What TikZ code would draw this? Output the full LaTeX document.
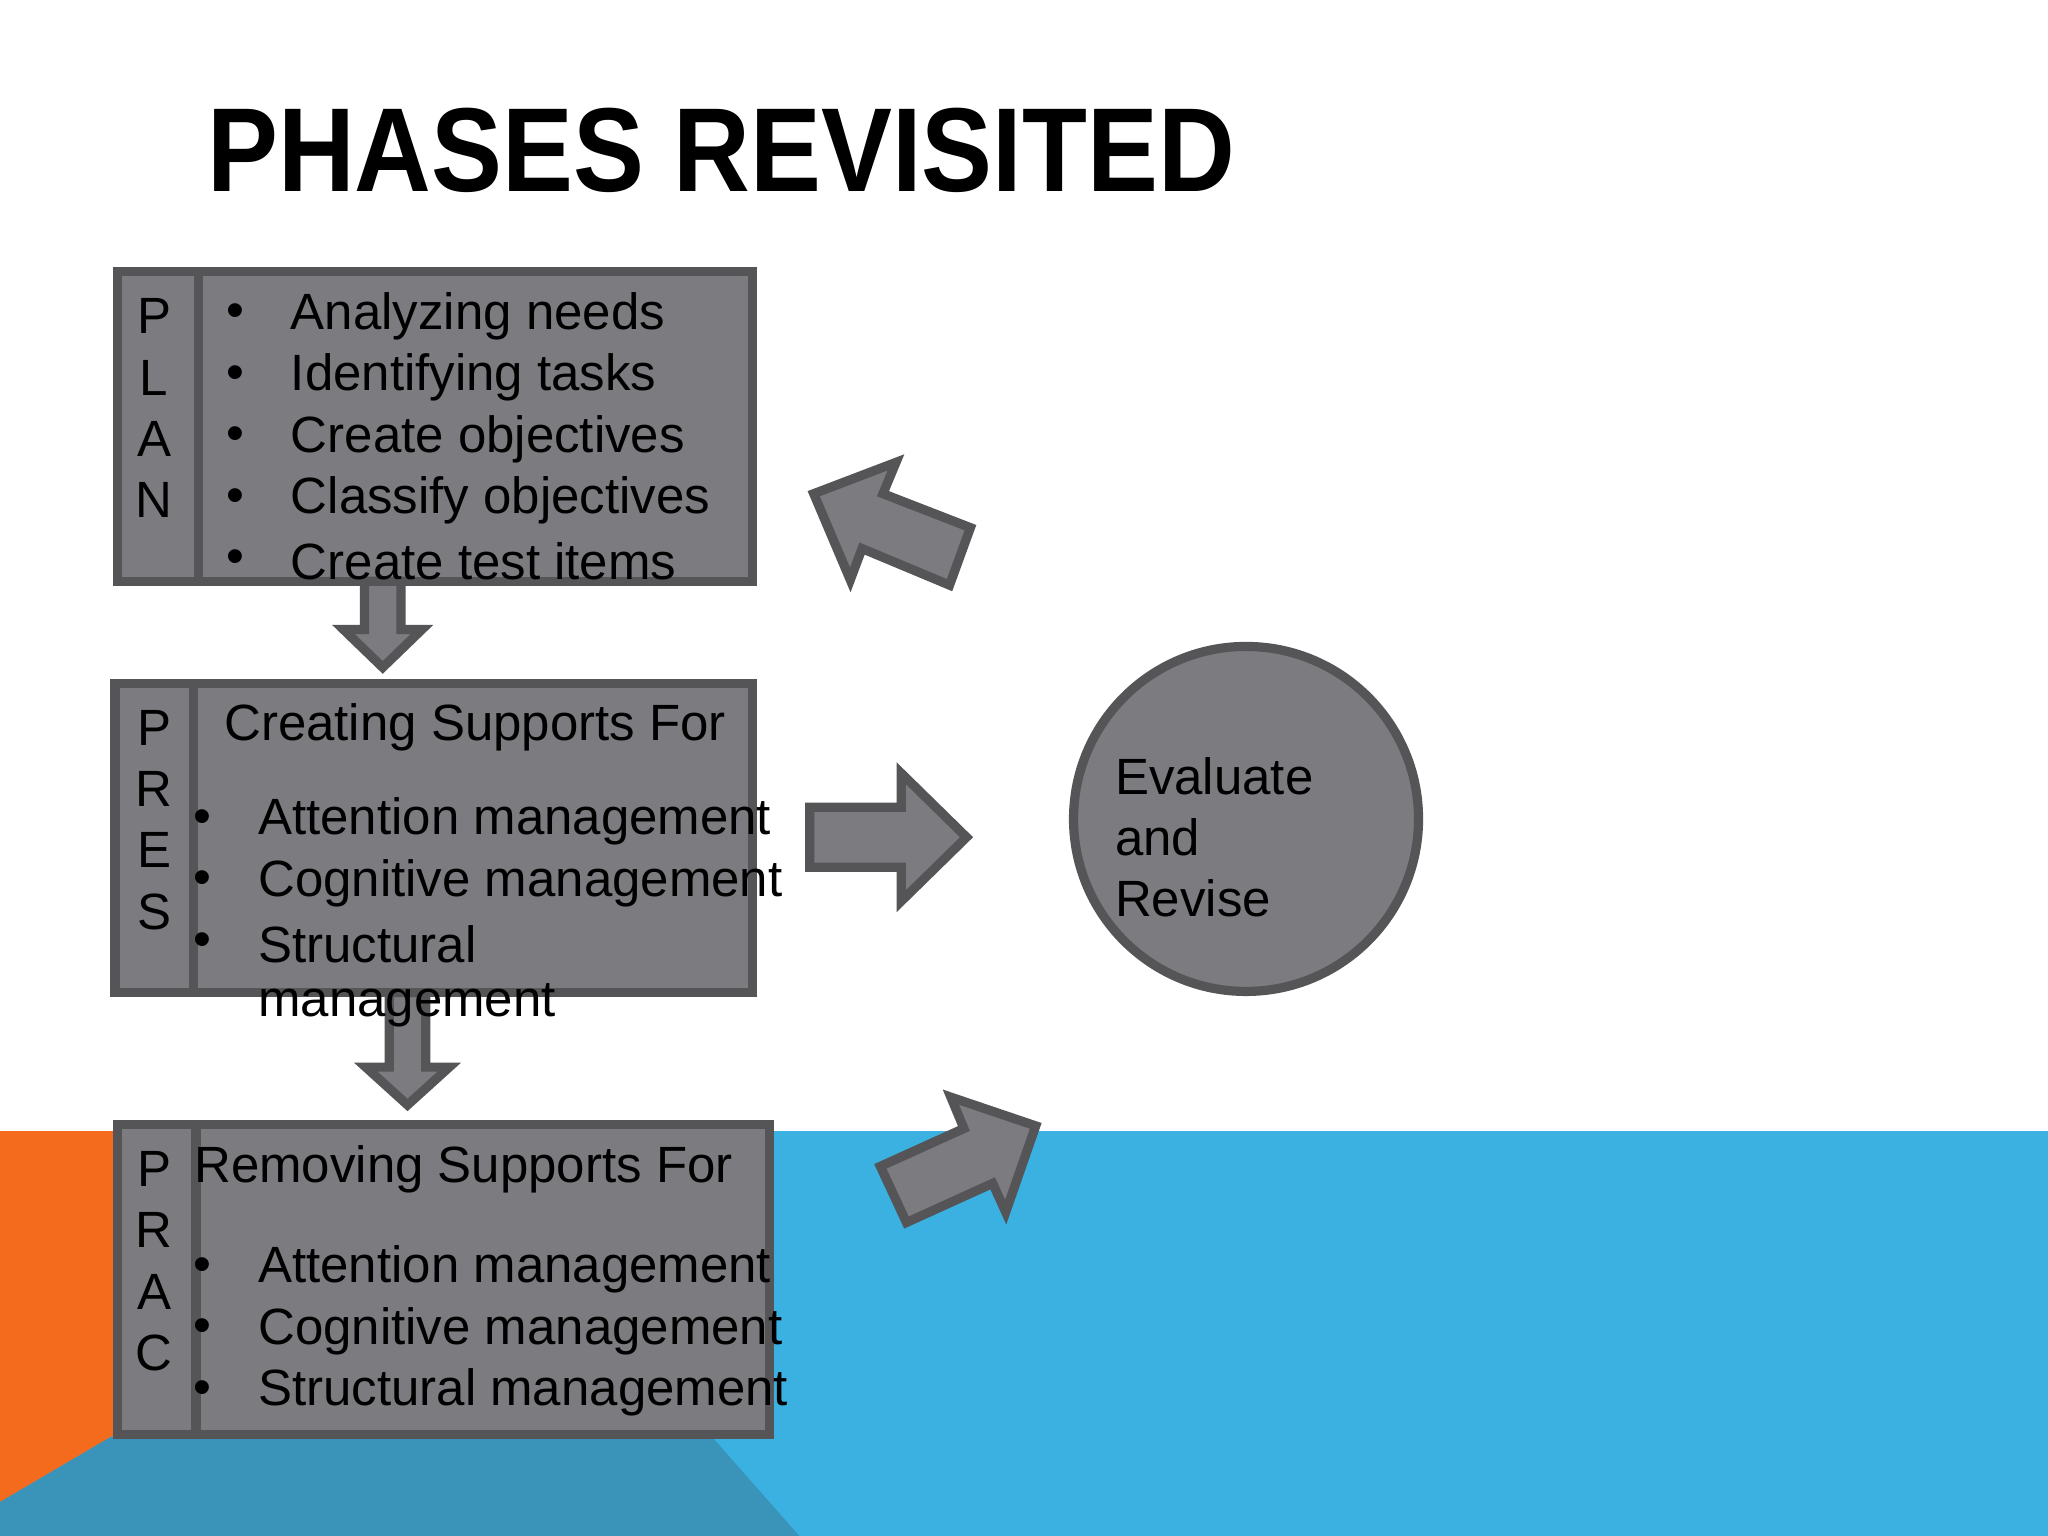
\documentclass[tikz,border=0pt]{standalone}
\usepackage{fontspec}
\setmainfont{Liberation Sans}
\definecolor{bx}{HTML}{7B7B80}
\definecolor{bd}{HTML}{555558}
\definecolor{bl}{HTML}{3BB1E1}
\definecolor{tl}{HTML}{3A93B8}
\definecolor{og}{HTML}{F56B1E}
\begin{document}
\begin{tikzpicture}[x=0.01cm,y=-0.01cm,
 box/.style={fill=bx,draw=bd,line width=2pt},
 t/.style={anchor=west,inner sep=0pt,font=\fontsize{11.1pt}{13pt}\selectfont,text=black},
 l/.style={anchor=center,inner sep=0pt,font=\fontsize{11.1pt}{13pt}\selectfont,text=black}]
\useasboundingbox (0,0) rectangle (1568,1176);
\fill[white] (0,0) rectangle (1568,1176);
\fill[bl] (0,866) rectangle (1568,1176);
\fill[og] (0,866) -- (120,866) -- (120,1100) -- (85,1100) -- (0,1150) -- cycle;
\fill[tl] (85,1100) -- (545,1100) -- (612,1176) -- (0,1176) -- (0,1150) -- cycle;
\node[anchor=west,inner sep=0pt,font=\bfseries\fontsize{26pt}{30pt}\selectfont] (title) at (158,115) {\scalebox{0.89}[1]{PHASES REVISITED}};
% boxes
\draw[box] (90,208) rectangle (576,445); \draw[bd,line width=2pt] (152,208)--(152,445);
\draw[box] (88,523) rectangle (576,760); \draw[bd,line width=2pt] (148,523)--(148,760);
\draw[box] (90,861) rectangle (589,1098); \draw[bd,line width=2pt] (150,861)--(150,1098);
\node[draw=bd,fill=bx,line width=2pt,circle,minimum size=2.64cm,inner sep=0pt] (c) at (954,627) {};
% arrows
\draw[box] (279,445)--(307,445)--(307,482)--(323,482)--(293,511)--(263,482)--(279,482)--cycle;
\draw[box] (298,760)--(326,760)--(326,817)--(344,817)--(312,846)--(280,817)--(298,817)--cycle;
\draw[box] (620,618)--(690,618)--(690,592)--(740,641)--(690,690)--(690,664)--(620,664)--cycle;
\draw[box] (623,378)--(686,354)--(676,378)--(743,404)--(727,448)--(660,420)--(651,444)--cycle;
\draw[box] (793,862)--(728,840)--(738,864)--(674,893)--(694,936)--(760,906)--(770,928)--cycle;
% PLAN
\foreach \c/\y/\n in {P/242/a,L/289/b,A/336/c,N/383/d}{\node[l] (p\n) at (118,\y) {\c};}
\foreach \s/\y/\n in {Analyzing needs/242/a,Identifying tasks/289/b,Create objectives/336/c,Classify objectives/383/d,Create test items/430/e}{
 \node[l] (pb\n) at (180,\y) {•}; \node[t] (pt\n) at (222,\y) {\s};}
% PRES
\foreach \c/\y/\n in {P/557/a,R/604/b,E/651/c,S/698/d}{\node[l] (r\n) at (118,\y) {\c};}
\node[t] (rh) at (171,557) {Creating Supports For};
\foreach \s/\y/\n in {Attention management/629/a,Cognitive management/676/b,Structural/723/c}{
 \node[l] (rb\n) at (155,\y) {•}; \node[t] (rt\n) at (197,\y) {\s};}
\node[t] (rtd) at (197,770) {management};
% PRAC
\foreach \c/\y/\n in {P/895/a,R/942/b,A/989/c,C/1036/d}{\node[l] (q\n) at (118,\y) {\c};}
\node[t] (qh) at (148,895) {Removing Supports For};
\foreach \s/\y/\n in {Attention management/972/a,Cognitive management/1019/b,Structural management/1066/c}{
 \node[l] (qb\n) at (155,\y) {•}; \node[t] (qt\n) at (197,\y) {\s};}
% circle text
\node[t] (e1) at (853,594) {Evaluate};
\node[t] (e2) at (853,641) {and};
\node[t] (e3) at (853,688) {Revise};
\end{tikzpicture}
\end{document}
